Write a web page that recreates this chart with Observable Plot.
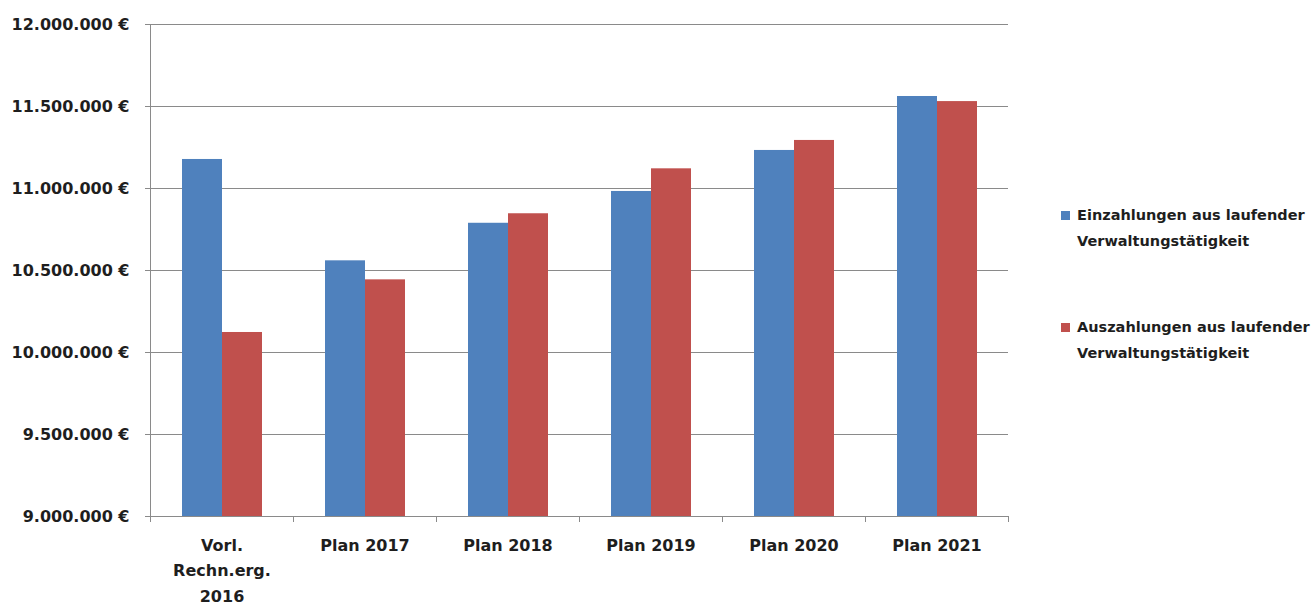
<!DOCTYPE html>
<html>
<head>
<meta charset="utf-8">
<script src="https://cdn.jsdelivr.net/npm/d3@7"></script>
<script src="https://cdn.jsdelivr.net/npm/@observablehq/plot@0.6"></script>
<style>
  html, body { margin: 0; padding: 0; background: #fff; }
  #wrap { position: relative; width: 1314px; height: 605px; overflow: hidden; }
  .lg { position: absolute; font-family: "DejaVu Sans", sans-serif; font-weight: bold; font-size: 14.5px; color: #1e1e1e; line-height: 26px; white-space: nowrap; }
  .sw { position: absolute; width: 9px; height: 9px; }
</style>
</head>
<body>
<div id="wrap"></div>
<script>
const categories = ["Vorl.\nRechn.erg.\n2016", "Plan 2017", "Plan 2018", "Plan 2019", "Plan 2020", "Plan 2021"];
const seriesNames = ["Einzahlungen aus laufender Verwaltungstätigkeit", "Auszahlungen aus laufender Verwaltungstätigkeit"];
const legendLines = [["Einzahlungen aus laufender", "Verwaltungstätigkeit"], ["Auszahlungen aus laufender", "Verwaltungstätigkeit"]];
const einzahlungen = [11177000, 10559000, 10788000, 10982000, 11232000, 11561000];
const auszahlungen = [10122000, 10443000, 10846000, 11120000, 11293000, 11530000];
const yTicks = [9000000, 9500000, 10000000, 10500000, 11000000, 11500000, 12000000];
const colors = ["#4f81bd", "#c0504d"];

const data = [];
categories.forEach((c, i) => {
  data.push({category: c, series: seriesNames[0], value: einzahlungen[i]});
  data.push({category: c, series: seriesNames[1], value: auszahlungen[i]});
});

const yMin = yTicks[0], yMax = yTicks[yTicks.length - 1];
const fmt = v => d3.format(",")(v).replace(/,/g, ".") + " €";

const chart = Plot.plot({
  width: 1314,
  height: 605,
  marginLeft: 148,
  marginRight: 304,
  marginTop: 24,
  marginBottom: 89,
  style: {fontFamily: "DejaVu Sans, sans-serif", fontSize: "16px", fontWeight: "bold", color: "#1e1e1e", background: "#fff"},
  fx: {domain: categories, padding: 0, label: null},
  x: {domain: seriesNames, paddingInner: 0, paddingOuter: 0.75, axis: null},
  y: {domain: [yMin, yMax], label: null},
  color: {domain: seriesNames, range: colors},
  marks: [
    Plot.gridY(yTicks, {stroke: "#8a8a8a", strokeOpacity: 1, strokeWidth: 1}),
    Plot.axisY(yTicks, {tickFormat: fmt, tickSize: 5, tickPadding: 16, label: null, stroke: "#8a8a8a", fill: "#1e1e1e"}),
    Plot.axisFx({anchor: "bottom", tickSize: 0, tickPadding: 16, lineHeight: 1.6, label: null, fill: "#1e1e1e"}),
    Plot.barY(data, {fx: "category", x: "series", y1: () => yMin, y2: "value", fill: "series"})
  ]
});

// Axis lines and category boundary ticks, from the library's scales
const fx = chart.scale("fx");
const ys = chart.scale("y");
const bounds = categories.map(c => fx.apply(c));
bounds.push(fx.apply(categories[categories.length - 1]) + fx.bandwidth);
const svg = d3.select(chart);
const g = svg.append("g").attr("stroke", "#8a8a8a").attr("shape-rendering", "crispEdges");
const y0 = ys.apply(yMin), y1 = ys.apply(yMax);
g.append("line").attr("x1", bounds[0]).attr("x2", bounds[0]).attr("y1", y1).attr("y2", y0 + 6);
g.append("line").attr("x1", bounds[0]).attr("x2", bounds[bounds.length - 1]).attr("y1", y0).attr("y2", y0);
bounds.forEach(b => g.append("line").attr("x1", b).attr("x2", b).attr("y1", y0).attr("y2", y0 + 6));

const wrap = document.getElementById("wrap");
wrap.appendChild(chart);

// Legend
const lgTops = [202, 314];
const swTops = [211, 323];
seriesNames.forEach((s, i) => {
  const sw = document.createElement("div");
  sw.className = "sw";
  sw.style.left = "1061px";
  sw.style.top = swTops[i] + "px";
  sw.style.background = colors[i];
  wrap.appendChild(sw);
  const t = document.createElement("div");
  t.className = "lg";
  t.style.left = "1077px";
  t.style.top = lgTops[i] + "px";
  t.innerHTML = legendLines[i].join("<br>");
  wrap.appendChild(t);
});
</script>
</body>
</html>
